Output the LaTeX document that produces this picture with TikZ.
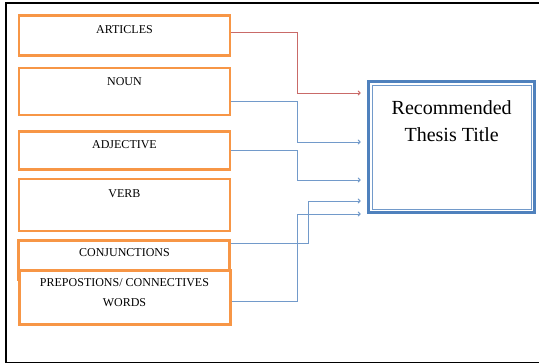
\documentclass[tikz,border=0pt]{standalone}
\usepackage{fontspec}
\setmainfont{Liberation Serif}
\usetikzlibrary{arrows.meta}
\definecolor{orng}{HTML}{F79646}
\definecolor{blu}{HTML}{4F81BD}
\definecolor{rd}{HTML}{C0504D}
\begin{document}
\begin{tikzpicture}[x=1pt,y=-1pt,
  wbox/.style={draw=orng, line width=2.4pt, fill=white, minimum width=211pt, inner sep=0pt},
  lbl/.style={font=\fontsize{12}{20}\selectfont, align=center, inner sep=0pt},
  conn/.style={draw=blu!80, line width=1pt, -{To[length=3pt,width=5pt]}},
  redconn/.style={conn, draw=rd!85}]
\useasboundingbox (0,0) rectangle (539,364);
\draw[line width=1.1pt] (538.5,3) -- (6,3) -- (6,362.5) -- (538.5,362.5);

\node[wbox, minimum height=40pt] (art) at (124.5,35.5) {};
\node[lbl] (tart) at (124.5,30) {ARTICLES};
\node[wbox, minimum height=47pt] (noun) at (124.5,91.5) {};
\node[lbl] (tnoun) at (124.5,82) {NOUN};
\node[wbox, minimum height=38pt] (adj) at (124.5,150.5) {};
\node[lbl] (tadj) at (124.5,145) {ADJECTIVE};
\node[wbox, minimum height=52pt] (verb) at (124.5,205) {};
\node[lbl] (tverb) at (124.5,194) {VERB};
\node[wbox, minimum height=39pt] (conj) at (124,260) {};
\node[lbl] (tconj) at (124.5,253) {CONJUNCTIONS};
\node[wbox, minimum height=54pt] (prep) at (125,297.5) {};
\node[lbl] (tprep) at (124.5,293) {PREPOSTIONS/ CONNECTIVES\\WORDS};

\node[draw=blu, line width=3.2pt, minimum width=166.1pt, minimum height=130.8pt, inner sep=0pt] (title) at (451.35,147) {};
\node[draw=blu!80, line width=1pt, minimum width=159.5pt, minimum height=124pt, inner sep=0pt] (titlein) at (451.75,147.5) {};
\node[font=\fontsize{20}{27}\selectfont, align=center, inner sep=0pt] (ttext) at (451.7,121.5) {Recommended\\Thesis Title};

\coordinate (tw) at ([xshift=-6pt]title.west);

\draw[redconn] ([yshift=3.5pt]art.east) -- ++(66,0) |- (tw |- 0,93);
\draw[conn] ([yshift=-9.5pt]noun.east) -- ++(66,0) |- (tw |- 0,142);
\draw[conn] (adj.east) -- ++(66,0) |- (tw |- 0,180);
\draw[conn] ([yshift=17pt]conj.east) -- ++(78,0) |- (tw |- 0,201);
\draw[conn] ([yshift=-4pt]prep.east) -- ++(66,0) |- (tw |- 0,214);
\end{tikzpicture}
\end{document}
